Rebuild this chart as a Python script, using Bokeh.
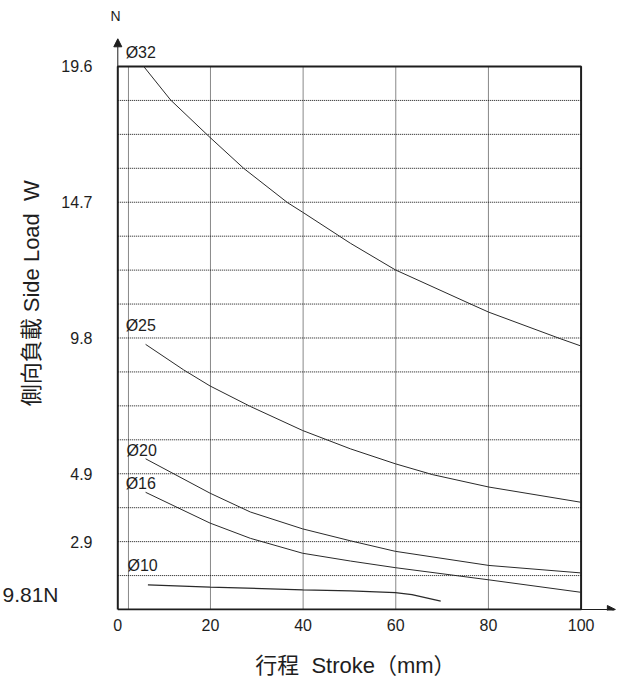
from bokeh.plotting import figure
from bokeh.models import Range1d, FixedTicker, Arrow, NormalHead, LinearAxis
from bokeh.core.properties import value
from bokeh.embed import file_html
from bokeh.resources import INLINE

# ---- data ----
stroke_d32 = [5.6, 11.4, 19.9, 27.2, 36.6, 39.9, 50.2, 59.9, 76.5, 80.1, 95.6, 100]
load_d32 = [19.6, 18.39, 17.04, 15.92, 14.69, 14.34, 13.22, 12.26, 11.0, 10.73, 9.77, 9.51]

stroke_d25 = [6.0, 14.2, 19.9, 28.6, 39.9, 50.2, 59.9, 67.9, 80.1, 100]
load_d25 = [9.57, 8.65, 8.07, 7.33, 6.46, 5.80, 5.26, 4.87, 4.42, 3.87]

stroke_d20 = [6.0, 19.9, 28.6, 39.9, 50.2, 59.9, 80.1, 100]
load_d20 = [5.44, 4.20, 3.52, 2.91, 2.48, 2.10, 1.59, 1.32]

stroke_d16 = [6.0, 19.9, 28.6, 39.9, 50.2, 59.9, 80.1, 100]
load_d16 = [4.23, 3.12, 2.57, 2.03, 1.75, 1.51, 1.07, 0.62]

stroke_d10 = [6.5, 19.9, 39.9, 50.2, 59.9, 63.5, 69.7]
load_d10 = [0.89, 0.81, 0.71, 0.67, 0.61, 0.54, 0.30]

curve_names = ["Ø32", "Ø25", "Ø20", "Ø16", "Ø10"]
name_x = [1.7, 1.7, 1.9, 1.7, 2.1]
name_y = [20.09, 10.25, 5.74, 4.55, 1.59]

x_ticks = [0, 20, 40, 60, 80, 100]
y_ticks = [2.45, 4.9, 9.8, 14.7, 19.6]
y_tick_labels = ["2.9", "4.9", "9.8", "14.7", "19.6"]
unit_tick = [0.54]
unit_label = ["9.81N"]
x_grid = [2.3, 20, 40, 60, 80]
y_grid = [1.225, 2.45, 3.675, 4.9, 6.125, 7.35, 8.575, 9.8, 11.025, 12.25,
          13.475, 14.7, 15.925, 17.15, 18.375]
x_max = 100
y_max = 19.6

FONT = "'Liberation Sans', Arial, 'Noto Sans CJK TC', sans-serif"
INK = "#1e1e1e"
NB = "\u00a0"

p = figure(width=617, height=681,
           x_range=Range1d(-2.655, 107.86), y_range=Range1d(-0.036, 21.982),
           output_backend="svg", toolbar_location=None,
           min_border_left=105, min_border_right=0,
           min_border_top=0, min_border_bottom=71)

p.outline_line_color = None
p.xgrid.visible = False
p.ygrid.visible = False
p.background_fill_color = "white"
p.border_fill_color = "white"


def style_axis(ax, size="16px", tick_out=0):
    ax.axis_line_color = None
    ax.major_tick_line_color = None
    ax.minor_tick_line_color = None
    ax.major_tick_out = tick_out
    ax.major_tick_in = 0
    ax.minor_tick_out = 0
    ax.minor_tick_in = 0
    ax.major_label_text_font = FONT
    ax.major_label_text_font_size = size
    ax.major_label_text_color = INK
    ax.axis_label_text_font = FONT
    ax.axis_label_text_font_size = "22px"
    ax.axis_label_text_font_style = "normal"
    ax.axis_label_text_color = INK


style_axis(p.xaxis[0], tick_out=6)
style_axis(p.yaxis[0])

p.xaxis.ticker = FixedTicker(ticks=x_ticks)
p.xaxis.major_label_standoff = 2
p.xaxis.axis_label = "行程" + NB + NB + "Stroke（mm）" + NB * 2
p.xaxis.axis_label_standoff = 19

p.yaxis.ticker = FixedTicker(ticks=y_ticks)
p.yaxis.major_label_overrides = {t: s for t, s in zip(y_ticks, y_tick_labels)}
p.yaxis.major_label_standoff = 13

# outer left axis: unit note and the vertical axis title
unit_axis = LinearAxis(ticker=FixedTicker(ticks=unit_tick),
                       major_label_overrides={t: s for t, s in zip(unit_tick, unit_label)})
style_axis(unit_axis, size="21px")
unit_axis.major_label_standoff = 0
unit_axis.axis_label = NB * 4 + "側向負載" + NB + "Side" + NB + "Load" + NB + NB + "W"
unit_axis.axis_label_standoff = -45
p.add_layout(unit_axis, "left")

# dotted grid inside the box
p.segment(x0=x_grid, y0=[0] * len(x_grid), x1=x_grid, y1=[y_max] * len(x_grid),
          line_color="#111111", line_width=1, line_dash="1 1")
p.segment(x0=[0] * len(y_grid), y0=y_grid, x1=[x_max] * len(y_grid), y1=y_grid,
          line_color="#111111", line_width=1, line_dash="1 1")

# box
p.line([0, 0, x_max, x_max, 0], [0, y_max, y_max, 0, 0], line_color=INK, line_width=2)

# axis arrows
p.add_layout(Arrow(end=NormalHead(size=8, fill_color=INK, line_color=INK),
                   x_start=0, y_start=y_max, x_end=0, y_end=20.6,
                   line_color=INK, line_width=1))
p.add_layout(Arrow(end=NormalHead(size=8, fill_color=INK, line_color=INK),
                   x_start=x_max, y_start=0, x_end=107.4, y_end=0,
                   line_color=INK, line_width=1))

# curves
for xs, ys, w in [(stroke_d32, load_d32, 1), (stroke_d25, load_d25, 1),
                  (stroke_d20, load_d20, 1), (stroke_d16, load_d16, 1),
                  (stroke_d10, load_d10, 1.3)]:
    p.line(xs, ys, line_color="#2a2a2a", line_width=w)

p.text(x=name_x, y=name_y, text=curve_names, text_font=value(FONT),
       text_font_size="16px", text_baseline="middle", text_align="left",
       text_color=INK)

p.text(x=[-0.5], y=[21.44], text=["N"], text_font=value(FONT),
       text_font_size="14px", text_baseline="middle", text_align="center",
       text_color=INK)

open("out.html", "w").write(file_html(p, INLINE))
